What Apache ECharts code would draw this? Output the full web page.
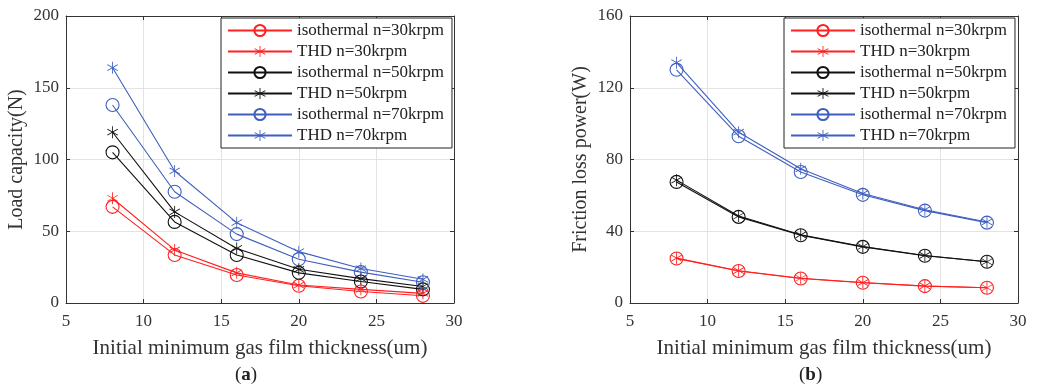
<!DOCTYPE html>
<html>
<head>
<meta charset="utf-8">
<script src="https://cdn.jsdelivr.net/npm/echarts@6/dist/echarts.min.js"></script>
<style>
html,body{margin:0;padding:0;background:#fff;}
#c{width:1037px;height:388px;}
</style>
</head>
<body>
<div id="c"></div>
<script>
// ---- data ----
var thickness = [8, 12, 16, 20, 24, 28];
var seriesNames = ['isothermal n=30krpm', 'THD n=30krpm', 'isothermal n=50krpm', 'THD n=50krpm', 'isothermal n=70krpm', 'THD n=70krpm'];
var loadIso30 = [67, 33.5, 19.5, 12, 8, 5];
var loadThd30 = [73, 37, 21, 12.5, 9.5, 6.7];
var loadIso50 = [105, 56.5, 33.5, 21, 15, 9.5];
var loadThd50 = [119, 63.5, 38, 23.5, 17, 11.5];
var loadIso70 = [138, 77.5, 48, 30.5, 21.5, 14.5];
var loadThd70 = [164, 92, 56, 35.8, 24, 16.5];
var powerIso30 = [24.8, 17.8, 13.7, 11.3, 9.4, 8.5];
var powerThd30 = [25, 18, 13.8, 11.4, 9.5, 8.5];
var powerIso50 = [67.5, 48, 37.8, 31.3, 26.3, 23];
var powerThd50 = [68.5, 48.5, 38, 31.5, 26.5, 23];
var powerIso70 = [130, 93, 73, 60.3, 51.5, 44.8];
var powerThd70 = [134, 95.2, 74.8, 61, 52, 45.2];
var xTicks = {min: 5, max: 30, interval: 5};
var loadTicks = {min: 0, max: 200, interval: 50};
var powerTicks = {min: 0, max: 160, interval: 40};
var xLabel = 'Initial minimum gas film thickness(um)';
var loadLabel = 'Load capacity(N)';
var powerLabel = 'Friction loss power(W)';

// ---- style ----
var FONT = '"Liberation Serif","DejaVu Serif",serif';
var RED = '#ff2020', BLACK = '#111111', BLUE = '#3f5fbf';
var colors = [RED, RED, BLACK, BLACK, BLUE, BLUE];

// asterisk symbol path (6 arms)
function asteriskPath() {
  var w = 3.5, parts = [];
  [90, 30, -30].forEach(function (deg) {
    var a = deg * Math.PI / 180, c = Math.cos(a), s = Math.sin(a);
    var dx = c * 50, dy = s * 50, px = -s * w, py = c * w;
    var pts = [[50 - dx + px, 50 - dy + py], [50 + dx + px, 50 + dy + py], [50 + dx - px, 50 + dy - py], [50 - dx - px, 50 - dy - py]];
    parts.push('M' + pts.map(function (p) { return p[0].toFixed(2) + ',' + p[1].toFixed(2); }).join('L') + 'Z');
  });
  return 'path://' + parts.join('');
}
var STAR = asteriskPath();

function mkSeries(idx, data, gi) {
  var isIso = idx % 2 === 0;
  var col = colors[idx];
  return {
    name: seriesNames[idx],
    type: 'line',
    xAxisIndex: gi * 2,
    yAxisIndex: gi * 2,
    data: thickness.map(function (x, i) { return [x, data[i]]; }),
    symbol: isIso ? 'circle' : STAR,
    symbolSize: isIso ? 13 : 12,
    symbolKeepAspect: true,
    showAllSymbol: true,
    lineStyle: {color: col, width: 1.1},
    itemStyle: isIso ? {color: 'rgba(255,255,255,0)', borderColor: col, borderWidth: 1.1} : {color: col, borderWidth: 0},
    emphasis: {disabled: true},
    animation: false,
    z: isIso ? 3 : 4
  };
}

function xAxes(gi) {
  return [{
    type: 'value', gridIndex: gi, min: xTicks.min, max: xTicks.max, interval: xTicks.interval,
    name: xLabel, nameLocation: 'middle', nameGap: 35,
    nameTextStyle: {fontFamily: FONT, fontSize: 21, color: '#333'},
    axisLine: {show: true, onZero: false, lineStyle: {color: '#333', width: 1}},
    axisTick: {show: true, inside: true, length: 4, lineStyle: {color: '#333'}},
    axisLabel: {fontFamily: FONT, fontSize: 17, color: '#333', margin: 10},
    splitLine: {show: true, lineStyle: {color: '#e3e3e3', width: 1}}
  }, {
    type: 'value', gridIndex: gi, position: 'top', min: xTicks.min, max: xTicks.max, interval: xTicks.interval,
    axisLine: {show: true, onZero: false, lineStyle: {color: '#333', width: 1}},
    axisTick: {show: true, inside: true, length: 4, lineStyle: {color: '#333'}},
    axisLabel: {show: false}, splitLine: {show: false}
  }];
}
function yAxes(gi, ticks, name, gap) {
  return [{
    type: 'value', gridIndex: gi, min: ticks.min, max: ticks.max, interval: ticks.interval,
    name: name, nameLocation: 'middle', nameGap: gap,
    nameTextStyle: {fontFamily: FONT, fontSize: 20, color: '#333'},
    axisLine: {show: true, onZero: false, lineStyle: {color: '#333', width: 1}},
    axisTick: {show: true, inside: true, length: 4, lineStyle: {color: '#333'}},
    axisLabel: {fontFamily: FONT, fontSize: 17, color: '#333', margin: 7},
    splitLine: {show: true, lineStyle: {color: '#e3e3e3', width: 1}}
  }, {
    type: 'value', gridIndex: gi, position: 'right', min: ticks.min, max: ticks.max, interval: ticks.interval,
    axisLine: {show: true, onZero: false, lineStyle: {color: '#333', width: 1}},
    axisTick: {show: true, inside: true, length: 4, lineStyle: {color: '#333'}},
    axisLabel: {show: false}, splitLine: {show: false}
  }];
}
function legend(left) {
  return {
    show: true, orient: 'vertical', left: left, top: 18,
    data: seriesNames,
    padding: [4, 8, 4, 6], itemGap: 4, itemWidth: 64, itemHeight: 14,
    backgroundColor: '#fff', borderColor: '#222', borderWidth: 1, borderRadius: 0,
    selectedMode: false,
    textStyle: {fontFamily: FONT, fontSize: 17, color: '#222'}
  };
}

var loadSets = [loadIso30, loadThd30, loadIso50, loadThd50, loadIso70, loadThd70];
var powerSets = [powerIso30, powerThd30, powerIso50, powerThd50, powerIso70, powerThd70];
var series = [];
loadSets.forEach(function (d, i) { series.push(mkSeries(i, d, 0)); });
powerSets.forEach(function (d, i) { series.push(mkSeries(i, d, 1)); });

var chart = echarts.init(document.getElementById('c'), null, {renderer: 'canvas'});
var capRich = {p: {fontFamily: FONT, fontSize: 19, fill: '#222'}, b: {fontFamily: FONT, fontSize: 19, fontWeight: 'bold', fill: '#222'}};
chart.setOption({
  backgroundColor: '#fff',
  animation: false,
  grid: [
    {left: 66, top: 16, width: 388, height: 287},
    {left: 630, top: 16, width: 388, height: 287}
  ],
  xAxis: xAxes(0).concat(xAxes(1)),
  yAxis: yAxes(0, loadTicks, loadLabel, 39).concat(yAxes(1, powerTicks, powerLabel, 39)),
  legend: [legend(221), legend(784)],
  series: series,
  graphic: [
    {type: 'text', left: 235, top: 366, style: {text: '{p|(}{b|a}{p|)}', rich: capRich}},
    {type: 'text', left: 799, top: 366, style: {text: '{p|(}{b|b}{p|)}', rich: capRich}}
  ]
});
</script>
</body>
</html>
